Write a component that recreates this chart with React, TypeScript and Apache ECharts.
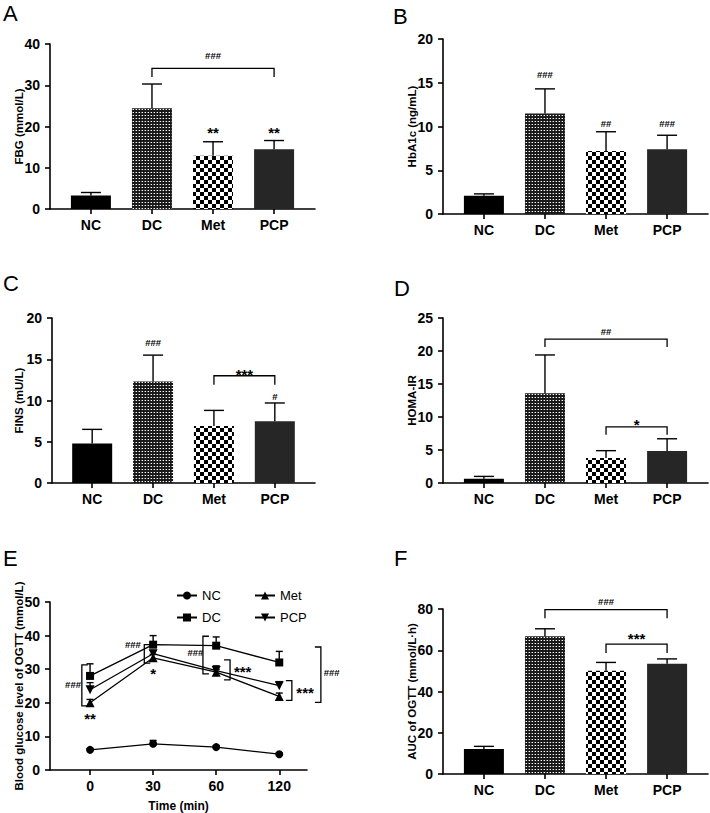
import React, { useEffect, useRef } from 'react';
import * as echarts from 'echarts';

// ---------- data ----------
const groups = ['NC', 'DC', 'Met', 'PCP'];

const fbgMean = [3.3, 24.4, 12.9, 14.5];
const fbgSd = [0.7, 5.9, 3.4, 2.1];
const hba1cMean = [2.1, 11.5, 7.2, 7.4];
const hba1cSd = [0.2, 2.8, 2.2, 1.6];
const finsMean = [4.8, 12.3, 6.9, 7.5];
const finsSd = [1.7, 3.2, 1.9, 2.2];
const homaMean = [0.65, 13.6, 3.8, 4.85];
const homaSd = [0.35, 5.8, 1.1, 1.85];
const aucMean = [12.1, 66.8, 50.1, 53.5];
const aucSd = [1.3, 3.6, 4.0, 2.3];

const timeLabels = ['0', '30', '60', '120'];
const ogttNC = [6.0, 7.8, 6.8, 4.7];
const ogttNCSd = [0.4, 1.0, 0.5, 0.4];
const ogttDC = [28.0, 37.3, 37.0, 32.0];
const ogttDCSd = [3.6, 2.7, 2.6, 3.3];
const ogttMet = [20.0, 33.4, 29.1, 21.9];
const ogttMetSd = [1.0, 1.0, 0.8, 1.0];
const ogttPCP = [23.9, 34.6, 29.6, 25.1];
const ogttPCPSd = [2.1, 1.0, 1.4, 1.2];

// annotations (data units): horizontal brackets [x1, x2, y, drop]
const bracketsA = [[1, 3, 34.1, 2.1]];
const bracketsC = [[2, 3, 13.0, 1.1]];
const bracketsD = [[1, 3, 21.8, 1.2], [2, 3, 8.5, 1.2]];
const bracketsF = [[1, 3, 79.7, 4.2], [2, 3, 63.0, 4.3]];
// vertical brackets in E [x, yTop, yBottom, dir]
const bracketsE = [
  [-0.13, 31.3, 19.1, 1],
  [0.86, 37.3, 31.8, 1],
  [1.79, 39.8, 28.6, 1],
  [2.22, 32.8, 26.8, -1],
  [3.2, 26.6, 20.7, -1],
  [3.66, 36.6, 20.1, -1],
];
// significance text positions [x, y] and strings
const textPosA = [[2, 37.3], [2, 18.6], [3, 18.6]];
const textStrA = ['###', '**', '**'];
const textPosB = [[1, 15.9], [2, 10.4], [3, 10.4]];
const textStrB = ['###', '##', '###'];
const textPosC = [[1, 17.0], [3, 10.5], [2.5, 13.2]];
const textStrC = ['###', '#', '***'];
const textPosD = [[2, 22.9], [2.5, 8.8]];
const textStrD = ['##', '*'];
const textPosE = [[-0.27, 25.3], [0.0, 15.3], [0.68, 37.3], [1.0, 28.8], [1.67, 35.0], [2.42, 29.2], [3.41, 23.1], [3.83, 29.1]];
const textStrE = ['###', '**', '###', '*', '###', '***', '***', '###'];
const textPosF = [[2, 83.4], [2.5, 65.6]];
const textStrF = ['###', '***'];

// ---------- styles ----------
const FONT = "'Liberation Sans', Arial, Helvetica, sans-serif";
const TICK_FONT = "'Liberation Sans Narrow', 'Liberation Sans', Arial, sans-serif";

function makeFine(): HTMLCanvasElement {
  const c = document.createElement('canvas');
  c.width = 3; c.height = 3;
  const g = c.getContext('2d')!;
  g.fillStyle = '#1a1a1a'; g.fillRect(0, 0, 3, 3);
  g.fillStyle = '#ffffff'; g.fillRect(1, 1, 1, 1);
  g.fillStyle = '#707070'; g.fillRect(0, 1, 1, 1);
  return c;
}
function makeChecker(): HTMLCanvasElement {
  const c = document.createElement('canvas');
  c.width = 8; c.height = 8;
  const g = c.getContext('2d')!;
  g.fillStyle = '#ffffff'; g.fillRect(0, 0, 8, 8);
  g.fillStyle = '#000000'; g.fillRect(0, 0, 4, 4); g.fillRect(4, 4, 4, 4);
  return c;
}

export default function App() {
  const ref = useRef<HTMLDivElement>(null);
  useEffect(() => {
    const chart = echarts.init(ref.current!, null, { renderer: 'svg' });
    const fine = makeFine();
    const checker = makeChecker();
    const barColors: any[] = [
      '#000000',
      { image: fine, repeat: 'repeat' },
      { image: checker, repeat: 'repeat' },
      '#262626',
    ];

    const panels = [
      { left: 50, top: 44, width: 265, height: 165, xmin: -0.67, xmax: 3.67, ymax: 40, step: 10, name: 'FBG (mmol/L)', gap: 25, mean: fbgMean, sd: fbgSd, br: bracketsA, tp: textPosA, ts: textStrA },
      { left: 443, top: 39, width: 265, height: 175, xmin: -0.67, xmax: 3.67, ymax: 20, step: 5, name: 'HbA1c (ng/mL)', gap: 25, mean: hba1cMean, sd: hba1cSd, br: [], tp: textPosB, ts: textStrB },
      { left: 52, top: 318, width: 263, height: 165, xmin: -0.66, xmax: 3.66, ymax: 20, step: 5, name: 'FINS (mU/L)', gap: 27, mean: finsMean, sd: finsSd, br: bracketsC, tp: textPosC, ts: textStrC },
      { left: 443, top: 318, width: 265, height: 165, xmin: -0.67, xmax: 3.67, ymax: 25, step: 5, name: 'HOMA-IR', gap: 25, mean: homaMean, sd: homaSd, br: bracketsD, tp: textPosD, ts: textStrD },
      { left: 50, top: 602, width: 257, height: 168, xmin: -0.635, xmax: 3.44, ymax: 50, step: 10, name: 'Blood glucose level of OGTT (mmol/L)', gap: 25, mean: null, sd: null, br: [], tp: textPosE, ts: textStrE },
      { left: 443, top: 609, width: 265, height: 165, xmin: -0.67, xmax: 3.67, ymax: 80, step: 20, name: 'AUC of OGTT (mmol/L·h)', gap: 25, mean: aucMean, sd: aucSd, br: bracketsF, tp: textPosF, ts: textStrF },
    ];

    const grid: any[] = [];
    const xAxis: any[] = [];
    const yAxis: any[] = [];
    const series: any[] = [];

    const lineStyle = { color: '#000', width: 1.6 };
    const axisTick = { show: true, length: 5, lineStyle: { color: '#000', width: 1.6 } };
    const tickLabel = { color: '#000', fontFamily: TICK_FONT, fontWeight: 'bold', fontSize: 14 };

    const errRender = (capW: number) => (params: any, api: any) => {
      const x = api.value(0);
      const p0 = api.coord([x, api.value(1)]);
      const p1 = api.coord([x, api.value(2)]);
      return {
        type: 'group',
        children: [
          { type: 'line', shape: { x1: p0[0], y1: p0[1], x2: p1[0], y2: p1[1] }, style: { stroke: '#000', lineWidth: 1.4 } },
          { type: 'line', shape: { x1: p1[0] - capW / 2, y1: p1[1], x2: p1[0] + capW / 2, y2: p1[1] }, style: { stroke: '#000', lineWidth: 1.4 } },
        ],
      };
    };

    panels.forEach((p, i) => {
      grid.push({ left: p.left, top: p.top, width: p.width, height: p.height, containLabel: false });
      const isE = i === 4;
      const labels = isE ? timeLabels : groups;
      xAxis.push({
        gridIndex: i, type: 'value', min: p.xmin, max: p.xmax,
        axisLine: { show: true, onZero: false, lineStyle }, splitLine: { show: false },
        axisTick: { ...axisTick, customValues: [0, 1, 2, 3] },
        axisLabel: { ...tickLabel, margin: 9, customValues: [0, 1, 2, 3], formatter: (v: number) => labels[Math.round(v)] ?? '' },
        name: isE ? 'Time (min)' : '', nameLocation: 'middle', nameGap: 30, nameMoveOverlap: false,
        nameTextStyle: { color: '#000', fontFamily: FONT, fontWeight: 'bold', fontSize: 12 },
      });
      yAxis.push({
        gridIndex: i, type: 'value', min: 0, max: p.ymax, interval: p.step,
        axisLine: { show: true, onZero: false, lineStyle }, axisTick, splitLine: { show: false },
        axisLabel: { ...tickLabel, margin: 10 },
        name: p.name, nameLocation: 'middle', nameRotate: 90, nameGap: p.gap, nameMoveOverlap: false,
        nameTextStyle: { color: '#000', fontFamily: FONT, fontWeight: 'bold', fontSize: 11.5 },
      });

      if (p.mean) {
        series.push({
          type: 'bar', xAxisIndex: i, yAxisIndex: i, barWidth: 40, silent: true,
          data: p.mean.map((v, k) => ({ value: [k, v], itemStyle: { color: barColors[k] } })),
        });
        series.push({
          type: 'custom', xAxisIndex: i, yAxisIndex: i, silent: true, z: 3,
          renderItem: errRender(20),
          data: p.mean.map((v, k) => [k, v, v + p.sd![k]]),
        });
      }
      if (p.br.length) {
        series.push({
          type: 'custom', xAxisIndex: i, yAxisIndex: i, silent: true, z: 4,
          renderItem: (params: any, api: any) => {
            const a = api.coord([api.value(0), api.value(2)]);
            const b = api.coord([api.value(1), api.value(2)]);
            const d = api.size([0, api.value(3)])[1];
            return {
              type: 'polyline',
              shape: { points: [[a[0], a[1] + d], a, b, [b[0], b[1] + d]] },
              style: { stroke: '#000', lineWidth: 1.3, fill: null },
            };
          },
          data: p.br,
        });
      }
      const strs = p.ts;
      series.push({
        type: 'custom', xAxisIndex: i, yAxisIndex: i, silent: true, z: 5,
        renderItem: (params: any, api: any) => {
          const pt = api.coord([api.value(0), api.value(1)]);
          const s = strs[params.dataIndex];
          const isHash = s.indexOf('#') >= 0;
          return {
            type: 'text', x: pt[0], y: pt[1],
            style: {
              text: s, fill: '#000', align: 'center', verticalAlign: 'middle',
              font: isHash ? `bold 9.5px ${FONT}` : `bold 15px ${FONT}`,
            },
          };
        },
        data: p.tp,
      });
    });

    // OGTT lines (panel E, index 4)
    const lineDefs = [
      { name: 'NC', data: ogttNC, sd: ogttNCSd, symbol: 'circle', size: 8, rot: 0 },
      { name: 'DC', data: ogttDC, sd: ogttDCSd, symbol: 'rect', size: 8, rot: 0 },
      { name: 'Met', data: ogttMet, sd: ogttMetSd, symbol: 'triangle', size: 9, rot: 0 },
      { name: 'PCP', data: ogttPCP, sd: ogttPCPSd, symbol: 'triangle', size: 9, rot: 180 },
    ];
    lineDefs.forEach((l) => {
      series.push({
        type: 'custom', xAxisIndex: 4, yAxisIndex: 4, silent: true, z: 1,
        renderItem: errRender(7),
        data: l.data.map((v, k) => [k, v, v + l.sd[k]]),
      });
      series.push({
        name: l.name, type: 'line', xAxisIndex: 4, yAxisIndex: 4, silent: true, z: 2,
        symbol: l.symbol, symbolSize: l.size, symbolRotate: l.rot,
        lineStyle: { color: '#000', width: 1.3 },
        itemStyle: { color: '#000' },
        data: l.data.map((v, k) => [k, v]),
      });
    });
    series.push({
      type: 'custom', xAxisIndex: 4, yAxisIndex: 4, silent: true, z: 4,
      renderItem: (params: any, api: any) => {
        const a = api.coord([api.value(0), api.value(1)]);
        const b = api.coord([api.value(0), api.value(2)]);
        const t = 6 * api.value(3);
        return {
          type: 'polyline',
          shape: { points: [[a[0] + t, a[1]], a, b, [b[0] + t, b[1]]] },
          style: { stroke: '#000', lineWidth: 1.3, fill: null },
        };
      },
      data: bracketsE,
    });

    const legendText = { color: '#000', fontFamily: FONT, fontSize: 13 };
    const legend = [
      { data: ['NC', 'DC'], left: 171, top: 584, orient: 'vertical', itemWidth: 20, itemHeight: 10, itemGap: 9, textStyle: legendText, selectedMode: false },
      { data: ['Met', 'PCP'], left: 249, top: 584, orient: 'vertical', itemWidth: 20, itemHeight: 10, itemGap: 9, textStyle: legendText, selectedMode: false },
    ];

    const letters = [
      ['A', 3, 2], ['B', 393, 5], ['C', 3, 272], ['D', 394, 277], ['E', 3, 547], ['F', 394, 547],
    ];
    const graphic = letters.map(([t, x, y]) => ({
      type: 'text', left: x, top: y,
      style: { text: t, fill: '#000', font: `22px ${FONT}` },
    }));

    chart.setOption({
      animation: false,
      backgroundColor: '#fff',
      grid, xAxis, yAxis, series, legend, graphic,
    });
    return () => chart.dispose();
  }, []);
  return <div ref={ref} style={{ position: 'absolute', left: 0, top: 0, width: 710, height: 813 }} />;
}
